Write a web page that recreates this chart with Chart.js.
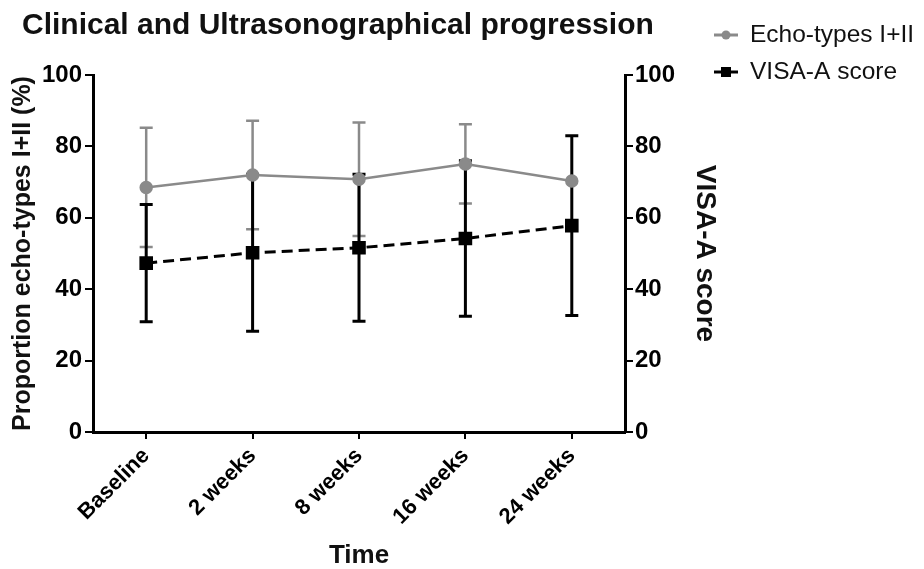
<!DOCTYPE html>
<html>
<head>
<meta charset="utf-8">
<script src="https://cdn.jsdelivr.net/npm/chart.js@4/dist/chart.umd.min.js"></script>
<style>
  html, body { margin: 0; padding: 0; background: #fff; }
  #wrap { width: 924px; height: 569px; }
</style>
</head>
<body>
<div id="wrap"><canvas id="progress"></canvas></div>
<script>
// data
const timepoints = ['Baseline', '2 weeks', '8 weeks', '16 weeks', '24 weeks'];
const echoMean = [68.5, 72.0, 70.8, 75.1, 70.3];
const echoSD = [16.7, 15.2, 15.9, 11.1, 0];
const visaMean = [47.3, 50.2, 51.6, 54.2, 57.8];
const visaSD = [16.4, 22.0, 20.6, 21.8, 25.2];
const axisTicks = [0, 20, 40, 60, 80, 100];

const GREY = '#8a8a8a';
const FONT = '"Liberation Sans", Arial, sans-serif';

// draws mean +/- SD whiskers with caps
function whiskers(chart, means, sds, axisId, color, width) {
    const ctx = chart.ctx;
    const x = chart.scales.x;
    const y = chart.scales[axisId];
    ctx.save();
    ctx.strokeStyle = color;
    ctx.lineWidth = width;
    means.forEach((m, i) => {
        if (!sds[i]) return;
        const px = x.getPixelForValue(i);
        const top = y.getPixelForValue(m + sds[i]);
        const bot = y.getPixelForValue(m - sds[i]);
        ctx.beginPath();
        ctx.moveTo(px, top); ctx.lineTo(px, bot);
        ctx.moveTo(px - 6.5, top); ctx.lineTo(px + 6.5, top);
        ctx.moveTo(px - 6.5, bot); ctx.lineTo(px + 6.5, bot);
        ctx.stroke();
    });
    ctx.restore();
}

const errorBars = {
    id: 'errorBars',
    beforeDatasetsDraw(chart) {
        whiskers(chart, echoMean, echoSD, 'y', GREY, 2.5);
        whiskers(chart, visaMean, visaSD, 'y1', '#000', 3);
    }
};

// heading at the top left and the legend at the top right, like the original
const headAndLegend = {
    id: 'headAndLegend',
    afterDraw(chart) {
        const ctx = chart.ctx;
        ctx.save();
        ctx.fillStyle = '#111';
        ctx.font = 'bold 30px ' + FONT;
        ctx.textBaseline = 'middle';
        ctx.fillText('Clinical and Ultrasonographical progression', 22, 26);

        const items = [
            {label: 'Echo-types I+II', color: GREY, shape: 'circle', y: 35},
            {label: 'VISA-A score', color: '#000', shape: 'rect', y: 72}
        ];
        items.forEach(it => {
            ctx.strokeStyle = it.color;
            ctx.fillStyle = it.color;
            ctx.lineWidth = 3;
            ctx.beginPath();
            ctx.moveTo(714, it.y); ctx.lineTo(738, it.y);
            ctx.stroke();
            if (it.shape === 'circle') {
                ctx.beginPath(); ctx.arc(726, it.y, 4.5, 0, Math.PI * 2); ctx.fill();
            } else {
                ctx.fillRect(721, it.y - 5, 10, 10);
            }
            ctx.fillStyle = '#111';
            ctx.font = '24.5px ' + FONT;
            ctx.fillText(it.label, 750, it.y);
        });
        ctx.restore();
    }
};

const tickStyle = {color: '#000', font: {family: FONT, size: 24, weight: 'bold'}};
const yGrid = {drawOnChartArea: false, drawTicks: true, tickLength: 8, color: '#000', lineWidth: 2};

new Chart(document.getElementById('progress'), {
    type: 'line',
    data: {
        labels: timepoints,
        datasets: [
            {
                label: 'Echo-types I+II',
                data: echoMean,
                yAxisID: 'y',
                borderColor: GREY,
                backgroundColor: GREY,
                borderWidth: 2.5,
                pointStyle: 'circle',
                pointRadius: 5.5,
                tension: 0
            },
            {
                label: 'VISA-A score',
                data: visaMean,
                yAxisID: 'y1',
                borderColor: '#000',
                backgroundColor: '#000',
                borderWidth: 3,
                borderDash: [11, 6],
                pointStyle: 'rect',
                pointRadius: 7.5,
                tension: 0
            }
        ]
    },
    options: {
        responsive: true,
        maintainAspectRatio: false,
        animation: false,
        layout: {padding: {left: 0, right: 199, top: 75, bottom: 0}},
        plugins: {
            legend: {display: false},
            tooltip: {enabled: false},
            title: {display: false}
        },
        scales: {
            x: {
                offset: true,
                afterFit: s => { s.height = 137; },
                grid: {drawOnChartArea: false, drawTicks: true, tickLength: 7, color: '#000', lineWidth: 2},
                border: {color: '#000', width: 3},
                ticks: {maxRotation: 45, minRotation: 45, padding: 4, color: '#000', font: {family: FONT, size: 22, weight: 'bold'}},
                title: {display: true, text: 'Time', color: '#111', font: {family: FONT, size: 26, weight: 'bold', lineHeight: 1}, padding: {top: 0, bottom: 0}}
            },
            y: {
                position: 'left',
                min: 0, max: 100,
                afterBuildTicks: s => { s.ticks = axisTicks.map(v => ({value: v})); },
                afterFit: s => { s.width = 93; },
                grid: yGrid,
                border: {color: '#000', width: 3},
                ticks: Object.assign({padding: 3}, tickStyle),
                title: {display: true, text: 'Proportion echo-types I+II (%)', color: '#111', font: {family: FONT, size: 25, weight: 'bold'}, padding: {top: 8, bottom: 0}}
            },
            y1: {
                position: 'right',
                min: 0, max: 100,
                afterBuildTicks: s => { s.ticks = axisTicks.map(v => ({value: v})); },
                afterFit: s => { s.width = 100; },
                grid: yGrid,
                border: {color: '#000', width: 3},
                ticks: Object.assign({padding: 2}, tickStyle),
                title: {display: true, text: 'VISA-A score', color: '#111', font: {family: FONT, size: 28, weight: 'bold'}, padding: {top: 3, bottom: 0}}
            }
        }
    },
    plugins: [errorBars, headAndLegend]
});
</script>
</body>
</html>
